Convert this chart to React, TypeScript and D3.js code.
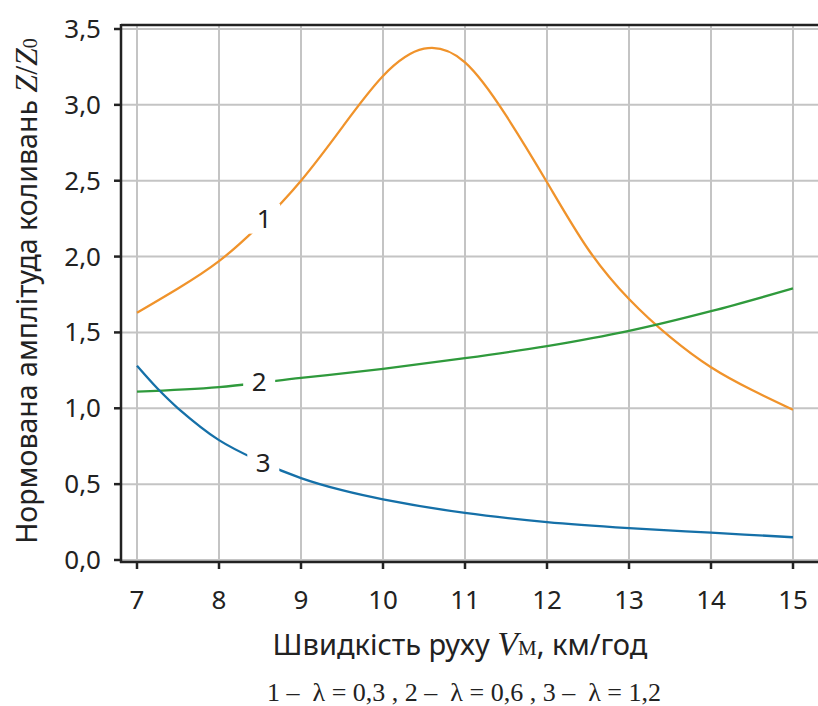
import { useEffect, useRef } from 'react'
import * as d3 from 'd3'

const speeds1 = [7, 7.5, 8, 8.5, 9, 9.5, 10, 10.5, 11, 11.5, 12, 12.5, 13, 13.5, 14, 14.5, 15]
const amp1 = [1.63, 1.79, 1.97, 2.21, 2.5, 2.85, 3.19, 3.37, 3.28, 2.93, 2.49, 2.05, 1.72, 1.47, 1.27, 1.12, 0.99]
const speeds2 = [7, 8, 9, 10, 11, 12, 13, 14, 15]
const amp2 = [1.11, 1.14, 1.2, 1.26, 1.33, 1.41, 1.51, 1.64, 1.79]
const speeds3 = [7, 7.25, 7.5, 8, 8.5, 9, 9.5, 10, 11, 12, 13, 14, 15]
const amp3 = [1.28, 1.13, 1.0, 0.79, 0.65, 0.54, 0.46, 0.4, 0.31, 0.25, 0.21, 0.18, 0.15]
const xTicks = [7, 8, 9, 10, 11, 12, 13, 14, 15]
const yTicks = [0, 0.5, 1, 1.5, 2, 2.5, 3, 3.5]
const labels = [
  { name: '1', x: 8.55, y: 2.25 },
  { name: '2', x: 8.49, y: 1.17 },
  { name: '3', x: 8.54, y: 0.64 },
]
const colors = ['#f0932b', '#2f9a3c', '#1570a8']

export default function App() {
  const ref = useRef<SVGSVGElement>(null)

  useEffect(() => {
    const svg = d3.select(ref.current)
    svg.selectAll('*').remove()

    const x = d3.scaleLinear().domain([7, 15]).range([137, 793])
    const y = d3.scaleLinear().domain([0, 3.5]).range([560, 29])
    const left = 121
    const bottom = 562
    const top = 25
    const right = 818
    const sans = 'Noto Sans, sans-serif'
    const serif = 'Liberation Serif, serif'

    // grid
    svg.append('g').selectAll('line').data(xTicks).join('line')
      .attr('x1', (d) => x(d)).attr('x2', (d) => x(d))
      .attr('y1', top).attr('y2', bottom)
      .attr('stroke', '#c4c4c4').attr('stroke-width', 2)
    svg.append('g').selectAll('line').data(yTicks).join('line')
      .attr('x1', left).attr('x2', right)
      .attr('y1', (d) => y(d)).attr('y2', (d) => y(d))
      .attr('stroke', '#c4c4c4').attr('stroke-width', 2)

    // frame
    svg.append('line').attr('x1', left).attr('x2', right).attr('y1', top).attr('y2', top)
      .attr('stroke', '#222').attr('stroke-width', 2.5)
    svg.append('line').attr('x1', left).attr('x2', left).attr('y1', top - 1).attr('y2', bottom + 1)
      .attr('stroke', '#222').attr('stroke-width', 2.5)
    svg.append('line').attr('x1', left - 1).attr('x2', right).attr('y1', bottom).attr('y2', bottom)
      .attr('stroke', '#222').attr('stroke-width', 2.5)

    // ticks
    svg.append('g').selectAll('line').data(yTicks).join('line')
      .attr('x1', left - 7).attr('x2', left)
      .attr('y1', (d) => y(d)).attr('y2', (d) => y(d))
      .attr('stroke', '#222').attr('stroke-width', 2.5)
    svg.append('g').selectAll('line').data(xTicks).join('line')
      .attr('x1', (d) => x(d)).attr('x2', (d) => x(d))
      .attr('y1', bottom).attr('y2', bottom + 7)
      .attr('stroke', '#222').attr('stroke-width', 2.5)

    const fmt = (d: number) => d.toFixed(1).replace('.', ',')
    svg.append('g').selectAll('text').data(yTicks).join('text')
      .attr('x', 101).attr('y', (d) => y(d) + 9)
      .attr('text-anchor', 'end')
      .style('font-family', sans).style('font-size', '26px').style('fill', '#222')
      .text(fmt)
    svg.append('g').selectAll('text').data(xTicks).join('text')
      .attr('x', (d) => x(d)).attr('y', 609)
      .attr('text-anchor', 'middle')
      .style('font-family', sans).style('font-size', '26px').style('fill', '#222')
      .text((d) => d)

    const series = [
      { xs: speeds1, ys: amp1, curve: d3.curveNatural },
      { xs: speeds2, ys: amp2, curve: d3.curveCatmullRom },
      { xs: speeds3, ys: amp3, curve: d3.curveCatmullRom },
    ]
    series.forEach((s, i) => {
      const line = d3.line<[number, number]>().x((d) => x(d[0])).y((d) => y(d[1])).curve(s.curve)
      svg.append('path')
        .attr('d', line(s.xs.map((v, j) => [v, s.ys[j]] as [number, number])))
        .attr('fill', 'none').attr('stroke', colors[i]).attr('stroke-width', 2.3)
    })

    // curve labels with white gap in the line
    const lg = svg.append('g').selectAll('g').data(labels).join('g')
    lg.append('rect')
      .attr('x', (d) => x(d.x) - 16).attr('y', (d) => y(d.y) - 15)
      .attr('width', 32).attr('height', 30).attr('fill', '#fff')
    lg.append('text')
      .attr('x', (d) => x(d.x)).attr('y', (d) => y(d.y) + 9)
      .attr('text-anchor', 'middle')
      .style('font-family', sans).style('font-size', '26px').style('fill', '#222')
      .text((d) => d.name)

    // axis titles
    const yt = svg.append('text')
      .attr('transform', 'translate(37,291) rotate(-90)')
      .attr('text-anchor', 'middle')
      .style('font-family', sans).style('font-size', '28.5px').style('fill', '#222')
    yt.append('tspan').text('Нормована амплітуда коливань ')
    yt.append('tspan').style('font-family', serif).style('font-style', 'italic').style('font-size', '32px').text('Z')
    yt.append('tspan').style('font-family', serif).style('font-size', '32px').text('/')
    yt.append('tspan').style('font-family', serif).style('font-style', 'italic').style('font-size', '32px').text('Z')
    yt.append('tspan').style('font-family', serif).style('font-size', '20px').text('0')

    const xt = svg.append('text')
      .attr('x', 460).attr('y', 655)
      .attr('text-anchor', 'middle')
      .style('font-family', sans).style('font-size', '29px').style('fill', '#222')
    xt.append('tspan').text('Швидкість руху ')
    xt.append('tspan').style('font-family', serif).style('font-style', 'italic').style('font-size', '34px').text('V')
    xt.append('tspan').style('font-family', serif).style('font-size', '21px').text('М')
    xt.append('tspan').text(', км/год')

    svg.append('text')
      .attr('x', 464).attr('y', 701)
      .attr('text-anchor', 'middle')
      .style('font-family', serif).style('font-size', '26px').style('fill', '#222')
      .style('white-space', 'pre')
      .text('1 –  λ = 0,3 , 2 –  λ = 0,6 , 3 –  λ = 1,2')
  }, [])

  return (
    <svg ref={ref} width={818} height={706} style={{ position: 'absolute', left: 0, top: 0, background: '#fff' }} />
  )
}
